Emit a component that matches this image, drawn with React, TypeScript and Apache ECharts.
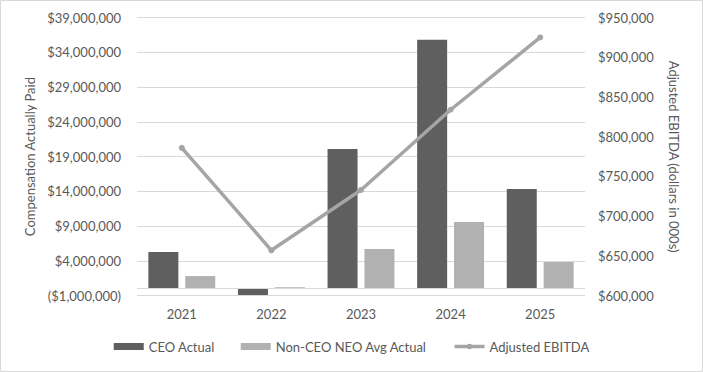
import React, { useEffect, useRef } from "react";
import * as echarts from "echarts";

const years = ["2021", "2022", "2023", "2024", "2025"];
const ceoActual = [5270000, -920000, 20100000, 35800000, 14330000];
const nonCeoAvg = [1810000, 200000, 5700000, 9580000, 3830000];
const adjustedEbitda = [786000, 657000, 733000, 834000, 925000];
const leftTicks = [-1000000, 4000000, 9000000, 14000000, 19000000, 24000000, 29000000, 34000000, 39000000];

const FONT = "Lato";
const TXT = "#595959";

function fmtMoney(v: number) {
  const s = "$" + Math.abs(Math.round(v)).toLocaleString("en-US");
  return v < 0 ? "(" + s + ")" : s;
}

export default function App() {
  const ref = useRef<HTMLDivElement>(null);
  useEffect(() => {
    if (!ref.current) return;
    const chart = echarts.init(ref.current, null, { renderer: "svg" });
    chart.setOption({
      animation: false,
      backgroundColor: "#ffffff",
      textStyle: { fontFamily: FONT, color: TXT },
      graphic: [
        {
          type: "rect",
          shape: { x: 0.5, y: 0.5, width: 702, height: 371 },
          style: { fill: "none", stroke: "#d9d9d9", lineWidth: 1 },
          silent: true,
        },
      ],
      grid: { left: 137, right: 118, top: 17.6, bottom: 76.4, containLabel: false },
      legend: {
        bottom: 14,
        left: "center",
        itemGap: 26,
        itemWidth: 30,
        itemHeight: 7,
        lineStyle: { width: 3.5 },
        textStyle: { fontFamily: FONT, fontSize: 13, color: TXT },
        data: [
          { name: "CEO Actual", icon: "rect" },
          { name: "Non-CEO NEO Avg Actual", icon: "rect" },
          { name: "Adjusted EBITDA" },
        ],
      },
      xAxis: {
        type: "category",
        data: years,
        axisLine: { show: false, onZero: false },
        axisTick: { show: false },
        axisLabel: { fontFamily: FONT, fontSize: 13, color: TXT, margin: 12 },
      },
      yAxis: [
        {
          type: "value",
          min: -1000000,
          max: 39000000,
          name: "Compensation Actually Paid",
          nameLocation: "middle",
          nameRotate: 90,
          nameGap: 100,
          nameTextStyle: { fontFamily: FONT, fontSize: 13, color: TXT },
          axisLine: { show: false },
          axisTick: { show: false, customValues: leftTicks },
          axisLabel: {
            customValues: leftTicks,
            fontFamily: FONT,
            fontSize: 13,
            color: TXT,
            margin: 16,
            formatter: (v: number) => fmtMoney(v),
          },
          splitLine: { show: true, lineStyle: { color: "#d9d9d9", width: 1 } },
        },
        {
          type: "value",
          min: 600000,
          max: 950000,
          interval: 50000,
          position: "right",
          name: "Adjusted EBITDA (dollars in 000s)",
          nameLocation: "middle",
          nameRotate: -90,
          nameGap: 82,
          nameTextStyle: { fontFamily: FONT, fontSize: 13, color: TXT },
          axisLine: { show: false },
          axisTick: { show: false },
          axisLabel: {
            fontFamily: FONT,
            fontSize: 13,
            color: TXT,
            margin: 13,
            formatter: (v: number) => fmtMoney(v),
          },
          splitLine: { show: false },
        },
      ],
      series: [
        {
          name: "CEO Actual",
          type: "bar",
          data: ceoActual,
          barWidth: 30,
          barGap: "23%",
          itemStyle: { color: "#5f5f5f" },
          markLine: {
            silent: true,
            symbol: "none",
            label: { show: false },
            lineStyle: { color: "#d9d9d9", width: 1, type: "solid" },
            data: [{ yAxis: 0 }],
          },
        },
        {
          name: "Non-CEO NEO Avg Actual",
          type: "bar",
          data: nonCeoAvg,
          barWidth: 30,
          barGap: "23%",
          itemStyle: { color: "#b1b1b1" },
        },
        {
          name: "Adjusted EBITDA",
          type: "line",
          yAxisIndex: 1,
          data: adjustedEbitda,
          symbol: "circle",
          symbolSize: 6,
          lineStyle: { color: "#a5a5a5", width: 3.5 },
          itemStyle: { color: "#a5a5a5" },
        },
      ],
    });
    return () => chart.dispose();
  }, []);
  return (
    <div
      ref={ref}
      style={{ position: "fixed", left: 0, top: 0, width: 703, height: 372 }}
    />
  );
}
